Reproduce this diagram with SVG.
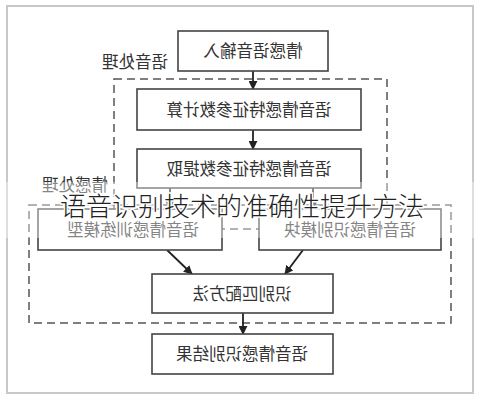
<svg xmlns="http://www.w3.org/2000/svg" width="483" height="400" viewBox="0 0 483 400">
<style>
.box{fill:#fff;stroke:#444;stroke-width:1.6}
.dash{fill:none;stroke:#555;stroke-width:1.5;stroke-dasharray:8 5}
.t{font-family:"Noto Sans CJK SC","Noto Sans",sans-serif;font-size:16.5px;fill:#333;text-anchor:middle}
.c{stroke:#222;stroke-width:1.8;fill:none;marker-end:url(#ah)}
.title{font-family:"Noto Sans CJK SC","Noto Sans",sans-serif;font-size:26px;font-weight:300;fill:#222;text-anchor:middle;stroke:#fff;stroke-width:3;paint-order:stroke}
</style>
<defs>
<marker id="ah" viewBox="0 0 10 10" refX="9" refY="5" markerWidth="5" markerHeight="5" orient="auto">
<path d="M0,0 L10,5 L0,10 z" fill="#222"/>
</marker>
</defs>
<rect x="0" y="0" width="483" height="400" fill="#fff"/>
<rect x="7" y="6" width="466" height="387" fill="#fff" stroke="#c8c8c8" stroke-width="2"/>
<g id="group-speech">
<rect class="dash" x="114" y="79" width="273" height="150"/>
<text class="t" transform="scale(-1,1)" x="-135" y="68">语音处理</text>
</g>
<g id="group-emotion">
<rect class="dash" x="29" y="205" width="422" height="118"/>
<text class="t" transform="scale(-1,1)" x="-75" y="191">情感处理</text>
</g>
<g id="connectors">
<line class="c" x1="253" y1="71" x2="253" y2="89"/>
<line class="c" x1="253" y1="130" x2="253" y2="149"/>
<line class="c" x1="170" y1="188" x2="170" y2="209"/>
<line class="c" x1="313" y1="188" x2="313" y2="209"/>
<line class="c" x1="167" y1="250" x2="192" y2="274"/>
<line class="c" x1="303" y1="250" x2="285" y2="274"/>
<line class="c" x1="243" y1="313" x2="243" y2="334"/>
</g>
<g id="n-input">
<rect class="box" x="178" y="31" width="150" height="40"/>
<text class="t" transform="scale(-1,1)" x="-253" y="57">情感语音输入</text>
</g>
<g id="n-calc">
<rect class="box" x="137" y="89" width="224" height="41"/>
<text class="t" transform="scale(-1,1)" x="-249" y="116">语音情感特征参数计算</text>
</g>
<g id="n-extract">
<rect class="box" x="137" y="149" width="224" height="39"/>
<text class="t" transform="scale(-1,1)" x="-249" y="175">语音情感特征参数提取</text>
</g>
<g id="n-train">
<rect class="box" x="38" y="209" width="184" height="41"/>
<text class="t" transform="scale(-1,1)" x="-133" y="236">语音情感训练模型</text>
</g>
<g id="n-recog">
<rect class="box" x="259" y="209" width="182" height="41"/>
<text class="t" transform="scale(-1,1)" x="-350" y="236">语音情感识别模块</text>
</g>
<g id="n-match">
<rect class="box" x="152" y="274" width="181" height="39"/>
<text class="t" transform="scale(-1,1)" x="-242" y="300">识别匹配方法</text>
</g>
<g id="n-result">
<rect class="box" x="152" y="334" width="181" height="40"/>
<text class="t" transform="scale(-1,1)" x="-242" y="360">语音情感识别结果</text>
</g>
<rect x="0" y="182" width="483" height="56" fill="#fff" opacity="0.4"/>
<text class="title" x="242" y="216">语音识别技术的准确性提升方法</text>
</svg>
